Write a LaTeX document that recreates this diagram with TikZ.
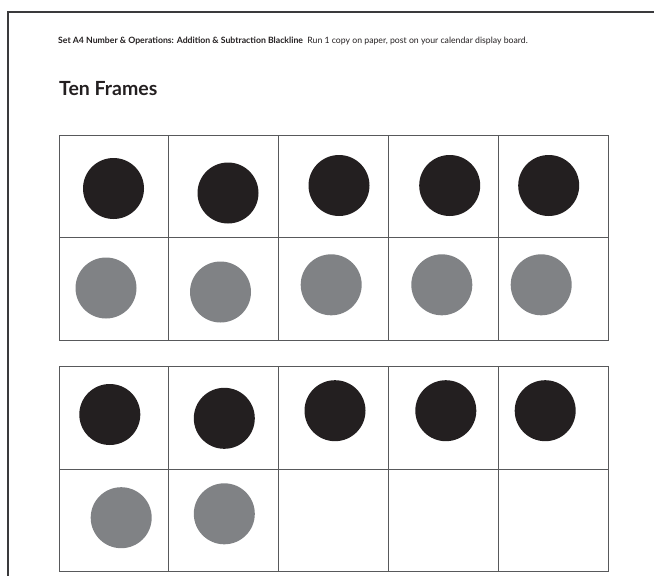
\documentclass[tikz,border=0pt]{standalone}
\usepackage{fontspec}
\setmainfont{Lato}
\usetikzlibrary{positioning}
\definecolor{dotblack}{HTML}{231F20}
\definecolor{dotgray}{HTML}{808285}
\definecolor{linegray}{HTML}{58595B}
\definecolor{edgegray}{HTML}{3A3A3C}

\begin{document}
\begin{tikzpicture}[x=1pt,y=-1pt,
  cell/.style={draw=linegray,line width=1pt,minimum width=109.8pt,minimum height=102.3pt,inner sep=0pt,outer sep=0pt},
  dot/.style={circle,fill=#1,minimum size=61pt,inner sep=0pt},
  head/.style={anchor=base west,inner sep=0pt,font=\fontsize{8.7}{10}\selectfont,text=dotblack},
  title/.style={anchor=base west,inner sep=0pt,font=\fontsize{19.5}{23}\selectfont\bfseries,text=dotblack},
]
\useasboundingbox (0,0) rectangle (654,576);

% === Page edge ===
\draw[edgegray,line width=1.5pt] (654,12) -- (8,12) -- (8,576);

% === Header ===
\node[head] (header) at (58,43) {\textbf{Set A4 Number \& Operations: Addition \& Subtraction Blackline}\ \ Run 1 copy on paper, post on your calendar display board.};
\node[title] (title) at (59,95.5) {Ten Frames};

% === Frames ===
\foreach \c in {0,...,4}
  \foreach \r in {0,1} {
    \node[cell,anchor=north west] (top-\r-\c) at (59+\c*109.8,135.5+\r*102.3) {};
    \node[cell,anchor=north west] (bot-\r-\c) at (59+\c*109.8,366.7+\r*102.3) {};
  }

% === Counters, first frame ===
\foreach \x/\y [count=\i] in {113.5/188.5,228/193,339/185.5,449.7/185.5,548.7/185.5}
  \node[dot=dotblack] (topblack-\i) at (\x,\y) {};
\foreach \x/\y [count=\i] in {106/288,220.5/292,331.2/284.8,441.8/284.8,541.2/284.8}
  \node[dot=dotgray] (topgray-\i) at (\x,\y) {};

% === Counters, second frame ===
\foreach \x/\y [count=\i] in {109.8/414.5,224.3/418.3,335/410.7,445.8/410.7,545.2/410.7}
  \node[dot=dotblack] (botblack-\i) at (\x,\y) {};
\foreach \x/\y [count=\i] in {121.2/517.7,224.3/513.8}
  \node[dot=dotgray] (botgray-\i) at (\x,\y) {};

\end{tikzpicture}
\end{document}
